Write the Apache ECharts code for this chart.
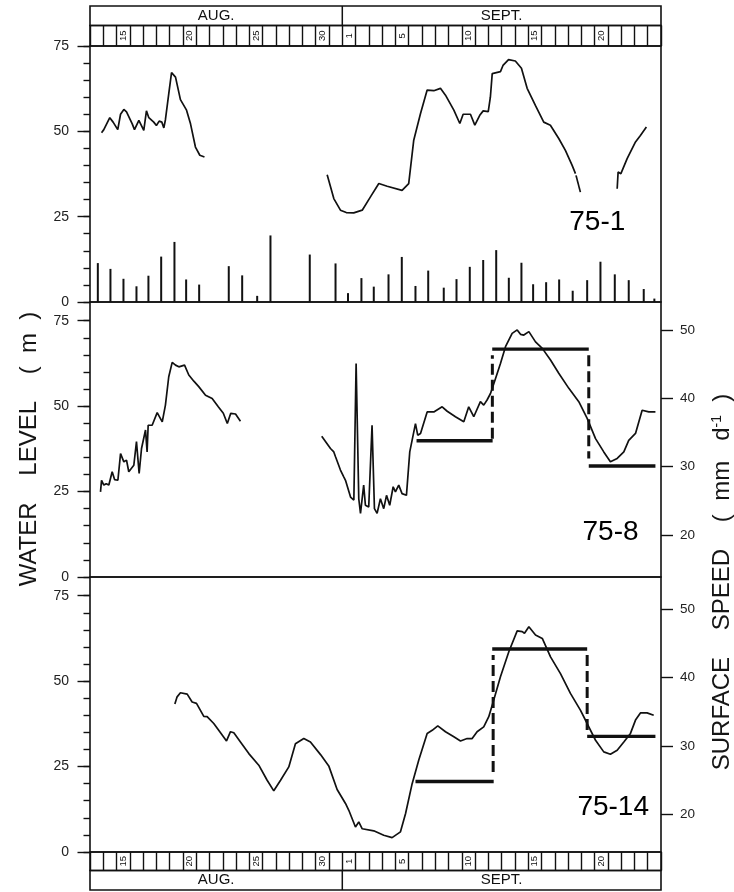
<!DOCTYPE html>
<html><head><meta charset="utf-8">
<script src="https://cdn.jsdelivr.net/npm/echarts@6/dist/echarts.min.js"></script>
<style>html,body{margin:0;padding:0;background:#fff}#c{width:734px;height:892px}</style>
</head><body><div id="c"></div>
<script>
// ---------- DATA (x = days since 00:00 on 13 Aug; 19 = 1 Sept) ----------
const dayStripLabels = ['15','20','25','30','1','5','10','15','20'];
const dayStripPos = [2.5,7.5,12.5,17.5,19.5,23.5,28.5,33.5,38.5];
const monthNames = ['AUG.','SEPT.'];
const monthPos = [9.5,31];
const monthBoundary = 19;
const levelTicks = [0,25,50,75];
const levelMinorTicks = [0,5,10,15,20,25,30,35,40,45,50,55,60,65,70,75];
const speedTicks = [20,30,40,50];
const panelNames = ['75-1','75-8','75-14'];

// daily bars in panel 75-1
const barDays = [0.59,1.54,2.52,3.5,4.4,5.36,6.36,7.24,8.22,10.45,11.46,12.59,13.59,16.55,18.49,19.43,20.44,21.37,22.48,23.48,24.51,25.47,26.64,27.6,28.6,29.61,30.59,31.54,32.49,33.37,34.35,35.33,36.35,37.44,38.44,39.52,40.57,41.7,42.5];
const barValues = [11.4,9.7,6.8,4.6,7.7,13.3,17.6,6.6,5.1,10.5,7.8,1.8,19.5,13.9,11.3,2.6,7,4.5,8.1,13.2,4.7,9.2,4.2,6.7,10.3,12.3,15.2,7.1,11.5,5.2,5.8,6.6,3.3,6.4,11.8,8.1,6.4,3.8,1];

// water level, borehole 75-1
const level751a = [[0.87,49.6],[1.04,50.5],[1.1,50],[1.49,54],[1.74,52.7],[2.09,50.5],[2.3,55],[2.55,56.4],[2.75,55.7],[2.9,56],[3.18,52.2],[3.35,50.5],[3.68,53.2],[3.8,52.7],[4.05,50.3],[4.25,56],[4.43,54],[4.8,52.7],[5.0,51.7],[5.21,53],[5.41,52.7],[5.56,51],[5.68,53.4],[5.93,61],[6.14,67.2],[6.44,65.9],[6.81,59.3],[7.27,56.2],[7.57,52.2],[7.94,45.4],[8.27,43],[8.62,42.5]];
const level751b = [[17.86,37.3],[18.36,30.3],[18.86,26.9],[19.3,26.2],[19.86,26.1],[20.5,26.9],[21.12,30.8],[21.75,34.7],[22.38,33.9],[23.5,32.7],[24.0,34.7],[24.38,47.4],[24.89,55.2],[25.39,62.1],[25.89,61.9],[26.39,62.6],[26.77,60.6],[27.4,56.2],[27.85,52.3],[28.1,55],[28.65,55],[28.98,51.8],[29.35,54.7],[29.61,56],[29.99,55.8],[30.15,60],[30.29,66.9],[30.91,67.5],[31.1,69.3],[31.52,71],[32.03,70.6],[32.49,68.5],[32.92,62.6],[33.54,57.6],[34.17,52.7],[34.67,51.8],[35.3,47.9],[35.8,44.4],[36.3,40.1],[36.56,37.6]];
const level751c = [[36.6,37.1],[36.93,32.2]];
const level751d = [[39.7,33.2],[39.77,38.1],[39.98,37.6],[40.45,42],[41.08,46.9],[41.45,48.8],[41.9,51.3]];

// water level, borehole 75-8
const level758a = [[0.79,24.9],[0.87,28.3],[1.04,26.9],[1.22,27.3],[1.42,26.9],[1.67,30.8],[1.85,28.5],[2.1,28.3],[2.3,36.1],[2.55,33.7],[2.75,34.2],[2.92,30.8],[3.3,32.7],[3.5,39.6],[3.7,30.3],[3.88,37.6],[4.18,43],[4.3,36.6],[4.38,44.4],[4.68,44.4],[5.06,48.1],[5.44,45.4],[5.68,50.3],[5.93,58.6],[6.19,62.8],[6.44,62],[6.69,61.5],[7.12,62],[7.44,59.1],[7.82,57.3],[8.19,55.7],[8.7,53.2],[9.2,52.2],[9.66,49.8],[10.04,47.9],[10.34,44.9],[10.6,47.9],[10.96,47.7],[11.33,45.6]];
const level758b = [[17.45,41.2],[18.11,37.6],[18.36,36.6],[18.49,35.2],[18.61,34.7],[18.86,31.3],[19.11,29.3],[19.24,28.3],[19.62,23.4],[19.87,22.5],[20.04,62.5],[20.24,22.9],[20.37,18.6],[20.61,26.9],[20.74,21],[20.99,20.5],[21.24,44.4],[21.42,20],[21.62,18.6],[21.87,22.9],[22.12,20],[22.33,23.9],[22.57,21],[22.83,26.4],[23.0,24.9],[23.25,26.9],[23.5,24.4],[23.83,23.9],[24.08,36.6],[24.51,44.9],[24.68,41.5],[24.89,42],[25.39,48.3],[25.89,48.3],[26.52,49.8],[26.9,48.5],[27.52,46.9],[28.15,45.4],[28.52,49.8],[28.9,46.9],[29.4,51.3],[29.65,50.3],[29.9,51.8],[30.16,53.7],[30.29,55.2],[30.54,58.1],[30.91,62.5],[31.29,67.4],[31.79,71.3],[32.17,72.3],[32.42,71],[32.67,70.8],[33.05,71.8],[33.55,68.8],[34.06,66.9],[34.68,63.5],[35.3,59.6],[36.06,55.2],[36.81,51.3],[37.44,46.4],[38.07,40.5],[38.69,36.6],[39.19,33.7],[39.7,34.7],[40.2,36.6],[40.57,40],[41.08,42],[41.58,48.8],[42.08,48.3],[42.58,48.3]];

// water level, borehole 75-14
const level7514 = [[6.39,43.3],[6.56,45.4],[6.81,46.6],[7.32,46.2],[7.69,43.9],[8.02,43.5],[8.57,39.7],[8.82,39.6],[9.32,37.6],[9.83,34.9],[10.28,32.5],[10.58,35.2],[10.83,34.9],[11.33,32.2],[11.96,28.8],[12.71,25.4],[13.34,21],[13.84,17.9],[14.35,21],[14.97,24.9],[15.47,31.7],[16.1,33.2],[16.6,32.2],[17.36,28.5],[17.98,25.2],[18.61,18.3],[19.24,14.2],[19.49,12.2],[19.99,7.3],[20.24,8.8],[20.5,6.8],[21.37,6.2],[22.12,4.9],[22.75,4.2],[23.38,5.9],[23.76,11.2],[24.26,20],[24.76,26.9],[25.39,34.7],[25.77,35.6],[26.19,36.9],[26.77,35.2],[27.4,33.7],[27.9,32.5],[28.4,33.2],[28.78,33.2],[29.15,35.2],[29.65,36.6],[30.03,39.6],[30.4,44.4],[30.91,51.3],[31.54,58.6],[32.17,64.7],[32.55,64.5],[32.72,64],[33.05,65.9],[33.55,63.5],[34.06,62.5],[34.68,57.1],[35.43,52.2],[36.18,46.4],[36.93,41.5],[37.44,37.6],[38.07,32.7],[38.69,29.3],[39.19,28.6],[39.7,29.8],[40.2,32.2],[40.7,34.7],[41.08,38.6],[41.45,40.7],[41.95,40.7],[42.45,40]];

// surface speed (mm/d), step values
const speed758Steps = [[[24.59,33.8],[30.32,33.8]],[[30.29,47.2],[37.56,47.2]],[[37.56,30.1],[42.58,30.1]]];
const speed758Risers = [[[30.3,34.1],[30.3,46.3]],[[37.56,46.3],[37.56,31.2]]];
const speed7514Steps = [[[24.51,24.8],[30.4,24.8]],[[30.29,44.2],[37.44,44.2]],[[37.44,31.4],[42.58,31.4]]];
const speed7514Risers = [[[30.36,26.2],[30.36,43.3]],[[37.44,43.3],[37.44,32.3]]];

// ---------- CHART ----------
const FONT = 'Liberation Sans';
const INK = '#111';
const LBL = '#222';
const grids = [], xAxes = [], yAxes = [], series = [];

function addGrid(top, height, strip) {
  grids.push({left:90, right:73, top:top, height:height, show:true, borderColor:INK, borderWidth:1.6});
  const gi = grids.length - 1;
  if (strip) {
    xAxes.push({type:'value', gridIndex:gi, min:0, max:43, interval:1,
      axisLine:{show:false}, axisTick:{show:false}, axisLabel:{show:false},
      splitLine:{show:true, lineStyle:{color:INK, width:1.4}}});
  } else {
    xAxes.push({type:'value', gridIndex:gi, min:0, max:43, show:false});
  }
  return gi;
}
function hiddenY(gi) {
  yAxes.push({type:'value', gridIndex:gi, min:0, max:1, show:false});
  return yAxes.length - 1;
}
function levelAxes(gi, max) {
  yAxes.push({type:'value', gridIndex:gi, min:0, max:max, position:'left',
    axisLine:{show:false}, splitLine:{show:false}, axisLabel:{show:false},
    axisTick:{show:true, customValues:levelMinorTicks, length:6.5, lineStyle:{color:INK, width:1.4}}});
  yAxes.push({type:'value', gridIndex:gi, min:0, max:max, position:'left',
    axisLine:{show:false}, splitLine:{show:false},
    axisTick:{show:true, customValues:levelTicks, length:12.5, lineStyle:{color:INK, width:1.4}},
    axisLabel:{show:true, customValues:levelTicks, margin:21, color:LBL, fontFamily:FONT, fontSize:14}});
  return yAxes.length - 1;
}
function speedAxis(gi, min, max) {
  yAxes.push({type:'value', gridIndex:gi, min:min, max:max, position:'right',
    axisLine:{show:false}, splitLine:{show:false},
    axisTick:{show:true, customValues:speedTicks, length:12, lineStyle:{color:INK, width:1.4}},
    axisLabel:{show:true, customValues:speedTicks, margin:19, color:LBL, fontFamily:FONT, fontSize:13.5}});
  return yAxes.length - 1;
}
function textSeries(xi, yi, items, label) {
  series.push({type:'scatter', xAxisIndex:xi, yAxisIndex:yi, symbolSize:1, silent:true,
    itemStyle:{color:'rgba(255,255,255,0)'}, z:5,
    data:items,
    label:Object.assign({show:true, position:'inside', formatter:'{b}', color:'#111', opacity:1,
      textBorderWidth:0, fontFamily:FONT}, label)});
}
function lineSeries(xi, yi, data, style, z) {
  series.push({type:'line', xAxisIndex:xi, yAxisIndex:yi, data:data, symbol:'none',
    silent:true, z:z || 2, lineStyle:Object.assign({color:INK, width:1.7}, style)});
}
function monthStrip(gi, yi) {
  lineSeries(gi, yi, [[monthBoundary,0],[monthBoundary,1]], {width:1.5});
  textSeries(gi, yi, monthNames.map((m,i)=>({name:m, value:[monthPos[i],0.5]})), {fontSize:15});
}
function dayStrip(gi, yi) {
  textSeries(gi, yi, dayStripLabels.map((d,i)=>({name:d, value:[dayStripPos[i],0.5]})), {fontSize:9.5, rotate:90});
}

// top strip
let g = addGrid(6, 19.5, false); monthStrip(g, hiddenY(g));
g = addGrid(25.5, 20.5, true); dayStrip(g, hiddenY(g));

// panel 1
const p1 = addGrid(46, 256, false);
const p1y = levelAxes(p1, 75);
series.push({type:'bar', xAxisIndex:p1, yAxisIndex:p1y, barWidth:2, silent:true,
  itemStyle:{color:INK}, data:barDays.map((d,i)=>[d, barValues[i]])});
[level751a, level751b, level751c, level751d].forEach(s=>lineSeries(p1, p1y, s));
textSeries(p1, p1y, [{name:panelNames[0], value:[38.2,23.4]}], {fontSize:28, color:'#000'});

// panel 2
const p2 = addGrid(302, 275, false);
const p2y = levelAxes(p2, 80.47);
const p2s = speedAxis(p2, 13.85, 54.1);
[level758a, level758b].forEach(s=>lineSeries(p2, p2y, s));
speed758Steps.forEach(s=>lineSeries(p2, p2s, s, {width:3.4}, 3));
speed758Risers.forEach(s=>lineSeries(p2, p2s, s, {width:3, type:[11,5]}, 3));
textSeries(p2, p2y, [{name:panelNames[1], value:[39.2,13.1]}], {fontSize:28, color:'#000'});

// panel 3
const p3 = addGrid(577, 275, false);
const p3y = levelAxes(p3, 80.47);
const p3s = speedAxis(p3, 14.48, 54.73);
lineSeries(p3, p3y, level7514);
speed7514Steps.forEach(s=>lineSeries(p3, p3s, s, {width:3.4}, 3));
speed7514Risers.forEach(s=>lineSeries(p3, p3s, s, {width:3, type:[11,5]}, 3));
textSeries(p3, p3y, [{name:panelNames[2], value:[39.4,13.1]}], {fontSize:28, color:'#000'});

// bottom strip
g = addGrid(852, 18.5, true); dayStrip(g, hiddenY(g));
g = addGrid(870.5, 19.5, false); monthStrip(g, hiddenY(g));

const chart = echarts.init(document.getElementById('c'), null, {renderer:'canvas'});
chart.setOption({
  animation:false,
  backgroundColor:'#fff',
  grid:grids, xAxis:xAxes, yAxis:yAxes, series:series,
  graphic:[
    {type:'text', x:29, y:449, rotation:Math.PI/2, silent:true,
      style:{text:'WATER    LEVEL    (  m  )', font:'24px ' + FONT, fill:'#151515', align:'center', verticalAlign:'middle'}},
    {type:'text', x:722, y:582, rotation:Math.PI/2, silent:true,
      style:{text:'{a|SURFACE    SPEED    (  mm   d}{s|-1}{a|  )}', align:'center', verticalAlign:'middle',
        rich:{a:{font:'24px ' + FONT, fill:'#151515'}, s:{font:'14px ' + FONT, fill:'#151515', verticalAlign:'top', padding:[0,0,10,0]}}}}
  ]
});
</script></body></html>
